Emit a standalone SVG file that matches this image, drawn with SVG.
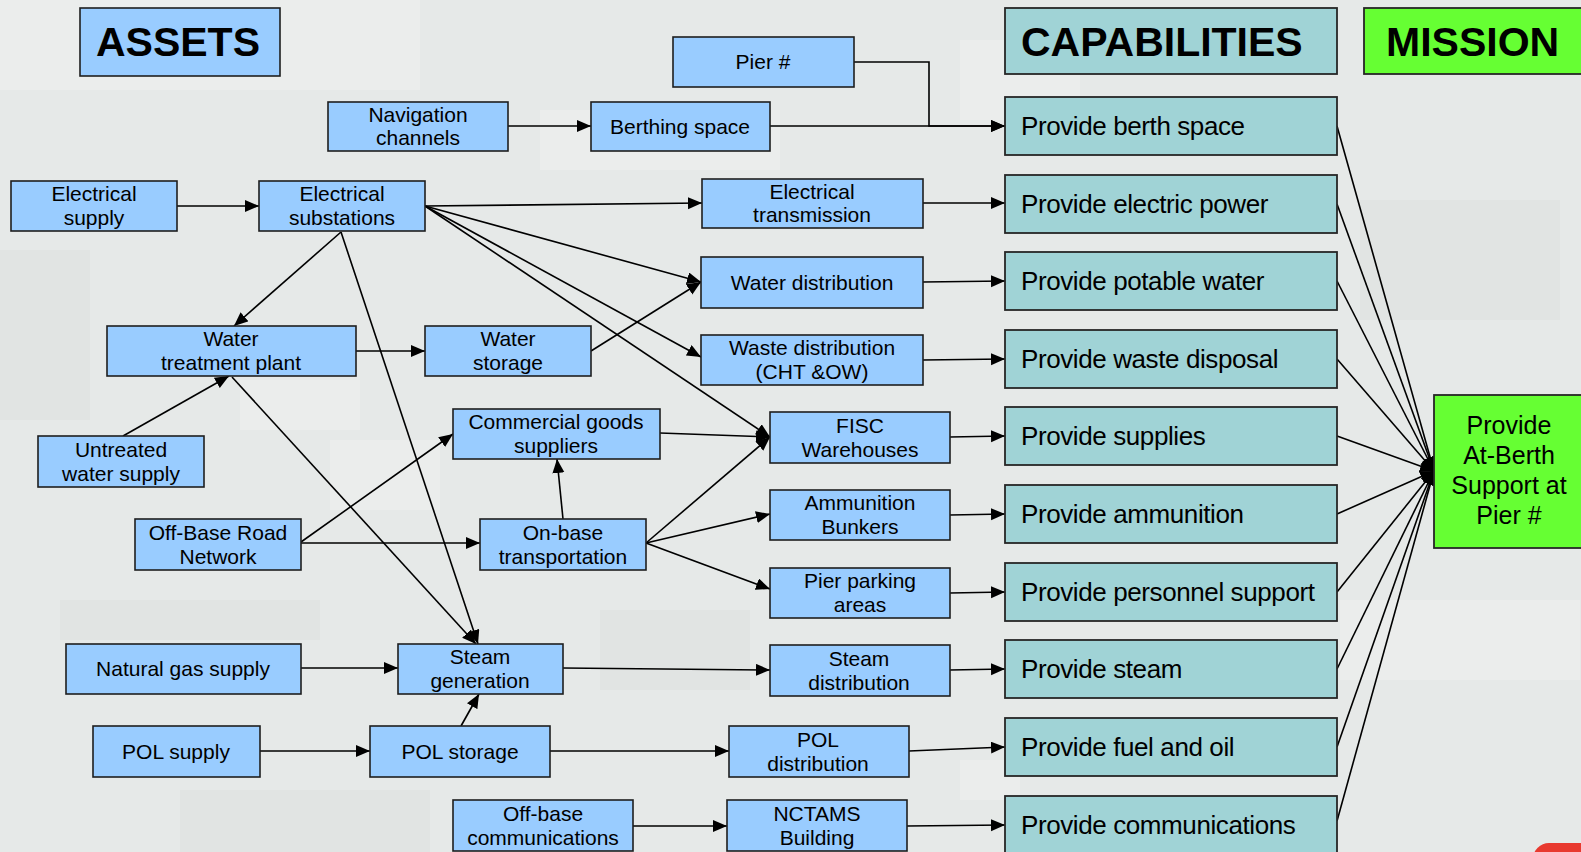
<svg xmlns="http://www.w3.org/2000/svg" width="1581" height="852" viewBox="0 0 1581 852">
  <style>
    .bg { fill: #e6e9e8; }
    .patch-l { fill: #ebedec; }
    .patch-d { fill: #e1e4e3; }
    .asset rect { fill: #99ccff; stroke: #1e1e1e; stroke-width: 1.6; }
    .cap rect { fill: #a0d3d6; stroke: #262626; stroke-width: 1.8; }
    .mission rect { fill: #66ff33; stroke: #262626; stroke-width: 1.8; }
    text { font-family: "Liberation Sans", Arial, sans-serif; fill: #000; }
    .asset text { font-size: 21px; text-anchor: middle; }
    .cap text { font-size: 26px; letter-spacing: -0.4px; }
    .mission text { font-size: 25px; text-anchor: middle; }
    .head text { font-size: 41px; font-weight: bold; letter-spacing: 0; }
    .head-left text { text-anchor: start; }
    .links line, .links polyline { stroke: #000; stroke-width: 1.6; fill: none; marker-end: url(#arrow); }
  </style>
  <defs>
    <marker id="arrow" markerUnits="userSpaceOnUse" markerWidth="15" markerHeight="13" refX="14" refY="6" orient="auto">
      <path d="M0,0 L14,6 L0,12 Z" fill="#000"/>
    </marker>
  </defs>

  <!-- backdrop with soft camouflage blocks -->
  <rect class="bg" x="0" y="0" width="1581" height="852"/>
  <g id="backdrop">
    <rect class="patch-l" x="0" y="0" width="420" height="90"/>
    <rect class="patch-l" x="540" y="110" width="240" height="60"/>
    <rect class="patch-l" x="960" y="40" width="120" height="80"/>
    <rect class="patch-d" x="0" y="250" width="90" height="170"/>
    <rect class="patch-l" x="240" y="380" width="120" height="50"/>
    <rect class="patch-d" x="60" y="600" width="260" height="40"/>
    <rect class="patch-l" x="330" y="440" width="110" height="70"/>
    <rect class="patch-d" x="600" y="610" width="150" height="80"/>
    <rect class="patch-l" x="1340" y="600" width="240" height="80"/>
    <rect class="patch-d" x="1360" y="200" width="200" height="120"/>
    <rect class="patch-l" x="960" y="760" width="60" height="40"/>
    <rect class="patch-d" x="180" y="790" width="250" height="62"/>
    <rect x="1533" y="843" width="80" height="40" rx="16" fill="#e8392f"/>
  </g>

  <!-- column headings -->
  <g id="head-assets" class="head asset">
    <rect x="80" y="8" width="200" height="68"/>
    <text x="178" y="56">ASSETS</text>
  </g>
  <g id="head-capabilities" class="head head-left cap">
    <rect x="1005" y="8" width="332" height="66"/>
    <text x="1021" y="56">CAPABILITIES</text>
  </g>
  <g id="head-mission" class="head head-left mission">
    <rect x="1364" y="8" width="230" height="66"/>
    <text x="1386" y="56">MISSION</text>
  </g>

  <!-- connectors -->
  <g id="links" class="links">
    <polyline points="854,62 929,62 929,126 1005,126"/>
    <line x1="770" y1="126" x2="1005" y2="126"/>
    <line x1="508" y1="126" x2="591" y2="126"/>
    <line x1="177" y1="206" x2="259" y2="206"/>
    <line x1="425" y1="206" x2="702" y2="203"/>
    <line x1="425" y1="206" x2="701" y2="282"/>
    <line x1="425" y1="206" x2="701" y2="357"/>
    <line x1="425" y1="206" x2="770" y2="437"/>
    <line x1="341" y1="232" x2="234" y2="326"/>
    <line x1="341" y1="232" x2="478" y2="644"/>
    <line x1="356" y1="351" x2="425" y2="351"/>
    <line x1="591" y1="351" x2="701" y2="282"/>
    <line x1="123" y1="436" x2="229" y2="376"/>
    <line x1="232" y1="377" x2="476" y2="644"/>
    <line x1="301" y1="542" x2="453" y2="434"/>
    <line x1="301" y1="543" x2="480" y2="543"/>
    <line x1="563" y1="519" x2="557" y2="459"/>
    <line x1="660" y1="433" x2="770" y2="437"/>
    <line x1="646" y1="543" x2="770" y2="437"/>
    <line x1="646" y1="543" x2="770" y2="514"/>
    <line x1="646" y1="543" x2="770" y2="589"/>
    <line x1="301" y1="668" x2="398" y2="668"/>
    <line x1="563" y1="668" x2="770" y2="670"/>
    <line x1="260" y1="751" x2="370" y2="751"/>
    <line x1="461" y1="726" x2="479" y2="694"/>
    <line x1="550" y1="751" x2="729" y2="751"/>
    <line x1="633" y1="826" x2="727" y2="826"/>
    <line x1="923" y1="203" x2="1005" y2="203"/>
    <line x1="923" y1="282" x2="1005" y2="281"/>
    <line x1="923" y1="360" x2="1005" y2="359"/>
    <line x1="950" y1="437" x2="1005" y2="436"/>
    <line x1="950" y1="515" x2="1005" y2="514"/>
    <line x1="950" y1="593" x2="1005" y2="592"/>
    <line x1="950" y1="670" x2="1005" y2="669"/>
    <line x1="909" y1="751" x2="1005" y2="747"/>
    <line x1="907" y1="826" x2="1005" y2="825"/>
    <line x1="1337" y1="126" x2="1434" y2="471"/>
    <line x1="1337" y1="204" x2="1434" y2="471"/>
    <line x1="1337" y1="281" x2="1434" y2="471"/>
    <line x1="1337" y1="359" x2="1434" y2="471"/>
    <line x1="1337" y1="436" x2="1434" y2="471"/>
    <line x1="1337" y1="514" x2="1434" y2="471"/>
    <line x1="1337" y1="592" x2="1434" y2="471"/>
    <line x1="1337" y1="669" x2="1434" y2="471"/>
    <line x1="1337" y1="747" x2="1434" y2="471"/>
    <line x1="1337" y1="821" x2="1434" y2="471"/>
  </g>

  <!-- asset nodes -->
  <g id="pier" class="asset">
    <rect x="673" y="37" width="181" height="50"/>
    <text x="763" y="69">Pier #</text>
  </g>
  <g id="navigation-channels" class="asset">
    <rect x="328" y="102" width="180" height="49"/>
    <text x="418" y="122">Navigation</text>
    <text x="418" y="145">channels</text>
  </g>
  <g id="berthing-space" class="asset">
    <rect x="591" y="102" width="179" height="49"/>
    <text x="680" y="134">Berthing space</text>
  </g>
  <g id="electrical-supply" class="asset">
    <rect x="11" y="181" width="166" height="50"/>
    <text x="94" y="201">Electrical</text>
    <text x="94" y="225">supply</text>
  </g>
  <g id="electrical-substations" class="asset">
    <rect x="259" y="181" width="166" height="50"/>
    <text x="342" y="201">Electrical</text>
    <text x="342" y="225">substations</text>
  </g>
  <g id="electrical-transmission" class="asset">
    <rect x="702" y="179" width="221" height="49"/>
    <text x="812" y="199">Electrical</text>
    <text x="812" y="222">transmission</text>
  </g>
  <g id="water-treatment-plant" class="asset">
    <rect x="107" y="326" width="249" height="50"/>
    <text x="231" y="346">Water</text>
    <text x="231" y="370">treatment plant</text>
  </g>
  <g id="water-storage" class="asset">
    <rect x="425" y="326" width="166" height="50"/>
    <text x="508" y="346">Water</text>
    <text x="508" y="370">storage</text>
  </g>
  <g id="untreated-water-supply" class="asset">
    <rect x="38" y="436" width="166" height="51"/>
    <text x="121" y="457">Untreated</text>
    <text x="121" y="481">water supply</text>
  </g>
  <g id="off-base-road-network" class="asset">
    <rect x="135" y="519" width="166" height="51"/>
    <text x="218" y="540">Off-Base Road</text>
    <text x="218" y="564">Network</text>
  </g>
  <g id="commercial-goods-suppliers" class="asset">
    <rect x="453" y="409" width="207" height="50"/>
    <text x="556" y="429">Commercial goods</text>
    <text x="556" y="453">suppliers</text>
  </g>
  <g id="on-base-transportation" class="asset">
    <rect x="480" y="519" width="166" height="51"/>
    <text x="563" y="540">On-base</text>
    <text x="563" y="564">transportation</text>
  </g>
  <g id="water-distribution" class="asset">
    <rect x="701" y="257" width="222" height="51"/>
    <text x="812" y="290">Water distribution</text>
  </g>
  <g id="waste-distribution" class="asset">
    <rect x="701" y="335" width="222" height="50"/>
    <text x="812" y="355">Waste distribution</text>
    <text x="812" y="379">(CHT &amp;OW)</text>
  </g>
  <g id="fisc-warehouses" class="asset">
    <rect x="770" y="412" width="180" height="51"/>
    <text x="860" y="433">FISC</text>
    <text x="860" y="457">Warehouses</text>
  </g>
  <g id="ammunition-bunkers" class="asset">
    <rect x="770" y="490" width="180" height="50"/>
    <text x="860" y="510">Ammunition</text>
    <text x="860" y="534">Bunkers</text>
  </g>
  <g id="pier-parking-areas" class="asset">
    <rect x="770" y="568" width="180" height="50"/>
    <text x="860" y="588">Pier parking</text>
    <text x="860" y="612">areas</text>
  </g>
  <g id="steam-distribution" class="asset">
    <rect x="770" y="645" width="180" height="51"/>
    <text x="859" y="666">Steam</text>
    <text x="859" y="690">distribution</text>
  </g>
  <g id="pol-distribution" class="asset">
    <rect x="729" y="726" width="180" height="51"/>
    <text x="818" y="747">POL</text>
    <text x="818" y="771">distribution</text>
  </g>
  <g id="nctams-building" class="asset">
    <rect x="727" y="800" width="180" height="51"/>
    <text x="817" y="821">NCTAMS</text>
    <text x="817" y="845">Building</text>
  </g>
  <g id="off-base-communications" class="asset">
    <rect x="453" y="800" width="180" height="51"/>
    <text x="543" y="821">Off-base</text>
    <text x="543" y="845">communications</text>
  </g>
  <g id="natural-gas-supply" class="asset">
    <rect x="66" y="644" width="235" height="50"/>
    <text x="183" y="676">Natural gas supply</text>
  </g>
  <g id="steam-generation" class="asset">
    <rect x="398" y="644" width="165" height="50"/>
    <text x="480" y="664">Steam</text>
    <text x="480" y="688">generation</text>
  </g>
  <g id="pol-supply" class="asset">
    <rect x="93" y="726" width="167" height="51"/>
    <text x="176" y="759">POL supply</text>
  </g>
  <g id="pol-storage" class="asset">
    <rect x="370" y="726" width="180" height="51"/>
    <text x="460" y="759">POL storage</text>
  </g>

  <!-- capability nodes -->
  <g id="cap-berth" class="cap">
    <rect x="1005" y="97" width="332" height="58"/>
    <text x="1021" y="135">Provide berth space</text>
  </g>
  <g id="cap-electric" class="cap">
    <rect x="1005" y="175" width="332" height="58"/>
    <text x="1021" y="213">Provide electric power</text>
  </g>
  <g id="cap-water" class="cap">
    <rect x="1005" y="252" width="332" height="58"/>
    <text x="1021" y="290">Provide potable water</text>
  </g>
  <g id="cap-waste" class="cap">
    <rect x="1005" y="330" width="332" height="58"/>
    <text x="1021" y="368">Provide waste disposal</text>
  </g>
  <g id="cap-supplies" class="cap">
    <rect x="1005" y="407" width="332" height="58"/>
    <text x="1021" y="445">Provide supplies</text>
  </g>
  <g id="cap-ammunition" class="cap">
    <rect x="1005" y="485" width="332" height="58"/>
    <text x="1021" y="523">Provide ammunition</text>
  </g>
  <g id="cap-personnel" class="cap">
    <rect x="1005" y="563" width="332" height="58"/>
    <text x="1021" y="601">Provide personnel support</text>
  </g>
  <g id="cap-steam" class="cap">
    <rect x="1005" y="640" width="332" height="58"/>
    <text x="1021" y="678">Provide steam</text>
  </g>
  <g id="cap-fuel" class="cap">
    <rect x="1005" y="718" width="332" height="58"/>
    <text x="1021" y="756">Provide fuel and oil</text>
  </g>
  <g id="cap-communications" class="cap">
    <rect x="1005" y="796" width="332" height="70"/>
    <text x="1021" y="834">Provide communications</text>
  </g>

  <!-- mission node -->
  <g id="mission-at-berth" class="mission">
    <rect x="1434" y="395" width="160" height="153"/>
    <text x="1509" y="434">Provide</text>
    <text x="1509" y="464">At-Berth</text>
    <text x="1509" y="494">Support at</text>
    <text x="1509" y="524">Pier #</text>
  </g>
</svg>
